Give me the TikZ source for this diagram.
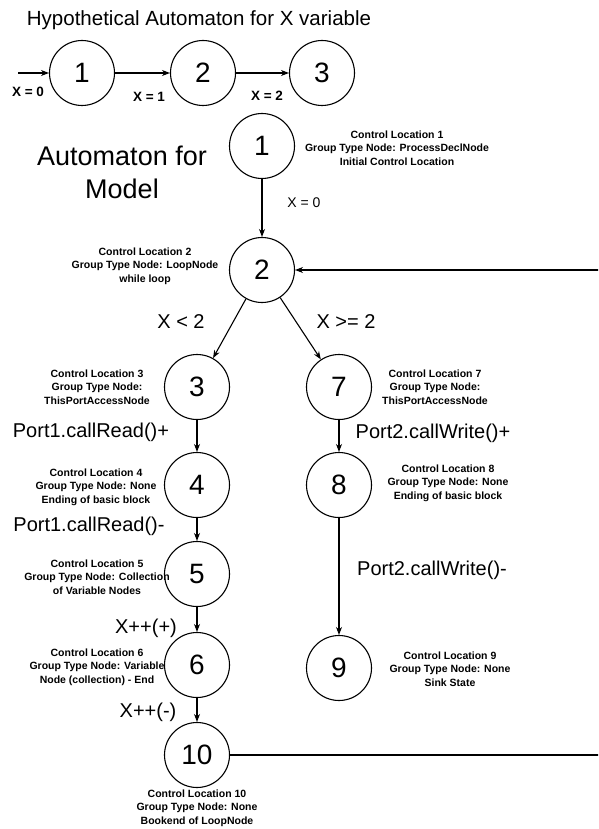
\documentclass[tikz,border=0pt]{standalone}
\usepackage{fontspec}
\setmainfont{Liberation Sans}
\usetikzlibrary{arrows.meta, positioning}

\begin{document}
\begin{tikzpicture}[x=1pt, y=-1pt,
  state/.style={circle, draw, line width=1.1pt, minimum size=65pt, inner sep=0pt, font=\fontsize{28}{28}\selectfont},
  info/.style={align=center, font=\bfseries\fontsize{10.5}{13.5}\selectfont},
  guard/.style={font=\fontsize{20}{22}\selectfont},
  small/.style={font=\bfseries\fontsize{13.5}{15}\selectfont},
  flow/.style={-{Stealth[length=8pt,width=6pt]}, line width=1.1pt}
]
\useasboundingbox (0,0) rectangle (598,829);
\clip (0,0) rectangle (598,829);

% Hypothetical automaton
\node[font=\fontsize{20.5}{22}\selectfont] (title) at (199,20) {Hypothetical Automaton for X variable};
\node[state] (h1) at (82,73) {1};
\node[state] (h2) at (203,73) {2};
\node[state] (h3) at (322,73) {3};
\coordinate (hin) at (18,73);

\draw[flow] (hin) -- (h1);
\node[small] (g0) at (28,92) {X = 0};
\draw[flow] (h1) -- (h2);
\node[small] (g1) at (149,97) {X = 1};
\draw[flow] (h2) -- (h3);
\node[small] (g2) at (267,96) {X = 2};

% Model automaton
\node[font=\fontsize{27}{33}\selectfont, align=center] (model) at (122,172) {Automaton for\\Model};

\node[state] (m1) at (262,146) {1};
\node[state] (m2) at (262,270) {2};
\node[state] (m3) at (197,387) {3};
\node[state] (m4) at (197,485) {4};
\node[state] (m5) at (197,574) {5};
\node[state] (m6) at (197,665) {6};
\node[state] (m10) at (197,755) {10};
\node[state] (m7) at (339,387) {7};
\node[state] (m8) at (339,485) {8};
\node[state] (m9) at (339,668) {9};
\coordinate (edge) at (605,0);

% Descriptions
\node[info] (i1) at (397,148) {Control Location 1\\Group Type Node: ProcessDeclNode\\Initial Control Location};
\node[info] (i2) at (145,266) {Control Location 2\\Group Type Node: LoopNode\\while loop};
\node[info] (i3) at (97,387) {Control Location 3\\Group Type Node:\\ThisPortAccessNode};
\node[info] (i4) at (96,487) {Control Location 4\\Group Type Node: None\\Ending of basic block};
\node[info] (i5) at (97,577) {Control Location 5\\Group Type Node: Collection\\of Variable Nodes};
\node[info] (i6) at (97,667) {Control Location 6\\Group Type Node: Variable\\Node (collection) - End};
\node[info] (i10) at (197,808) {Control Location 10\\Group Type Node: None\\Bookend of LoopNode};
\node[info] (i7) at (435,387) {Control Location 7\\Group Type Node:\\ThisPortAccessNode};
\node[info] (i8) at (448,483) {Control Location 8\\Group Type Node: None\\Ending of basic block};
\node[info] (i9) at (450,669) {Control Location 9\\Group Type Node: None\\Sink State};

% Transitions
\draw[flow] (m1) -- (m2);
\node[font=\fontsize{14}{16}\selectfont] (t0) at (304,203) {X = 0};
\draw[flow] (m2) -- (m3);
\node[guard] (t1) at (181,322) {X < 2};
\draw[flow] (m2) -- (m7);
\node[guard] (t2) at (346,322) {X >= 2};
\draw[flow] (m3) -- (m4);
\node[guard] (t3) at (91,432) {Port1.callRead()+};
\draw[flow] (m4) -- (m5);
\node[guard] (t4) at (89,526) {Port1.callRead()-};
\draw[flow] (m5) -- (m6);
\node[guard] (t5) at (146,628) {X++(+)};
\draw[flow] (m6) -- (m10);
\node[guard] (t6) at (148,712) {X++(-)};
\draw[flow] (m7) -- (m8);
\node[guard] (t7) at (433,433) {Port2.callWrite()+};
\draw[flow] (m8) -- (m9);
\node[guard] (t8) at (432,570) {Port2.callWrite()-};
\draw[flow] (m10) -- (m10 -| edge) |- (m2);

\end{tikzpicture}
\end{document}
